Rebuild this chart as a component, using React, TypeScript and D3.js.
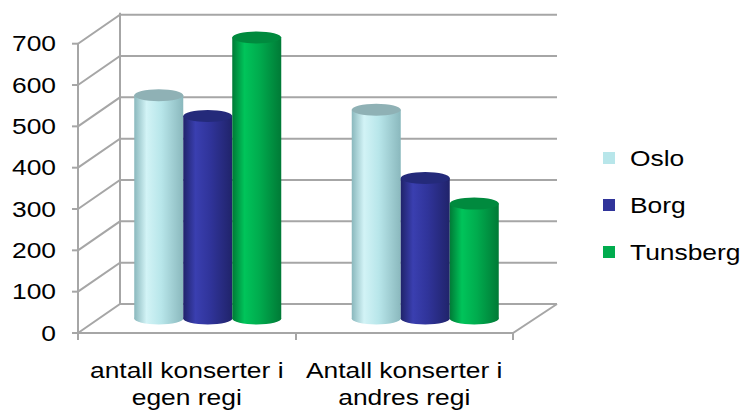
import * as d3 from 'd3'

const categories = ['antall konserter i egen regi', 'Antall konserter i andres regi']
const categoryLines = [['antall konserter i', 'egen regi'], ['Antall konserter i', 'andres regi']]
const seriesNames = ['Oslo', 'Borg', 'Tunsberg']
const oslo = [540, 505]
const borg = [490, 340]
const tunsberg = [680, 278]
const yTicks = [0, 100, 200, 300, 400, 500, 600, 700]

const colors = [
  { light: '#d2f3f6', mid: '#b8e6ea', dark: '#8ab8bd', top: '#8fb1b5' },
  { light: '#3a3fb0', mid: '#30349a', dark: '#20236a', top: '#242a7a' },
  { light: '#00c45a', mid: '#00ac4e', dark: '#007a36', top: '#008a3e' },
]

const W = 743
const H = 412
const depthX = 42
const depthY = -29
const font = 'Liberation Sans, Arial, sans-serif'
const FS = 22
const SX = 1.2

// text stretched horizontally like the original rendering
function Label({ x, y, anchor, children }: { x: number; y: number; anchor: string; children: any }) {
  return (
    <text
      transform={`translate(${x},${y}) scale(${SX},1)`}
      dy="0.35em"
      textAnchor={anchor}
      fontSize={FS}
      fill="#000"
    >
      {children}
    </text>
  )
}

export default function App() {
  const values = [oslo, borg, tunsberg]
  const y = d3.scaleLinear().domain([0, 700]).range([333, 43.7])
  const x = d3.scaleBand().domain(categories).range([78, 513])
  const inner = d3.scaleBand().domain(seriesNames).range([0, 147])
  const grid = '#a6a6a6'

  return (
    <svg width={W} height={H} style={{ position: 'absolute', left: 0, top: 0 }} fontFamily={font}>
      <defs>
        {colors.map((c, i) => (
          <linearGradient key={i} id={`cyl${i}`} x1="0" x2="1" y1="0" y2="0">
            <stop offset="0%" stopColor={c.dark} />
            <stop offset="25%" stopColor={c.light} />
            <stop offset="55%" stopColor={c.mid} />
            <stop offset="100%" stopColor={c.dark} />
          </linearGradient>
        ))}
      </defs>
      {yTicks.map((t) => (
        <polyline
          key={t}
          points={`78,${y(t)} ${78 + depthX},${y(t) + depthY} 557,${y(t) + depthY}`}
          fill="none"
          stroke={grid}
          strokeWidth={2}
        />
      ))}
      <line x1={78 + depthX} x2={78 + depthX} y1={y(0) + depthY} y2={y(700) + depthY - 2} stroke={grid} strokeWidth={2} />
      <polyline points={`78,${y(0)} 513,${y(0)} 557,${y(0) + depthY}`} fill="none" stroke={grid} strokeWidth={2} />
      <line x1={78} x2={78} y1={y(0)} y2={y(700)} stroke={grid} strokeWidth={2} />
      {yTicks.map((t) => (
        <g key={t}>
          <line x1={72} x2={78} y1={y(t)} y2={y(t)} stroke={grid} strokeWidth={2} />
          <Label x={56} y={y(t)} anchor="end">{t}</Label>
        </g>
      ))}
      {[78, 296, 513].map((px) => (
        <line key={px} x1={px} x2={px} y1={y(0)} y2={y(0) + 7} stroke={grid} strokeWidth={2} />
      ))}
      {categories.map((c, ci) =>
        categoryLines[ci].map((l, li) => (
          <Label key={`${c}-${li}`} x={(x(c) ?? 0) + x.bandwidth() / 2} y={370 + li * 27} anchor="middle">
            {l}
          </Label>
        ))
      )}
      {categories.map((c, ci) =>
        seriesNames.map((s, si) => {
          const x0 = (x(c) ?? 0) + (x.bandwidth() - 147) / 2 + depthX / 2 + (inner(s) ?? 0)
          const w = inner.bandwidth()
          const base = y(0) + depthY / 2
          const top = y(values[si][ci]) + depthY / 2
          const rx = w / 2
          const ry = 6
          const cx = x0 + rx
          return (
            <g key={`${c}-${s}`}>
              <ellipse cx={cx} cy={base} rx={rx} ry={ry} fill={`url(#cyl${si})`} />
              <rect x={x0} y={top} width={w} height={base - top} fill={`url(#cyl${si})`} />
              <ellipse cx={cx} cy={top} rx={rx} ry={ry} fill={colors[si].top} />
            </g>
          )
        })
      )}
      {seriesNames.map((s, i) => (
        <g key={s}>
          <rect x={603} y={158 + i * 47 - 6} width={12} height={12} fill={colors[i].mid} />
          <Label x={630} y={158 + i * 47} anchor="start">{s}</Label>
        </g>
      ))}
    </svg>
  )
}
